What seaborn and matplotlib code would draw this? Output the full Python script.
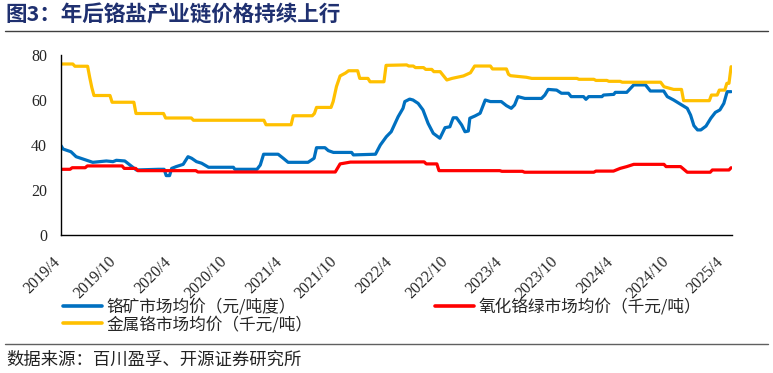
import pandas as pd
import matplotlib.pyplot as plt
import matplotlib.dates as mdates
import matplotlib.transforms as mtransforms
from matplotlib.lines import Line2D
import seaborn as sns

# === Data ===
ore_dates = ["2019-04-01", "2019-04-08", "2019-05-04", "2019-05-21", "2019-06-23", "2019-07-15",
             "2019-08-29", "2019-09-20", "2019-10-01", "2019-10-29", "2019-11-15", "2019-12-06",
             "2020-02-17", "2020-03-07", "2020-03-14", "2020-03-25", "2020-04-01", "2020-04-16",
             "2020-05-09", "2020-05-25", "2020-06-06", "2020-06-22", "2020-07-09", "2020-08-01",
             "2020-10-22", "2020-10-27", "2021-01-08", "2021-01-19", "2021-01-30", "2021-03-19",
             "2021-04-05", "2021-04-21", "2021-06-26", "2021-07-16", "2021-07-24", "2021-08-21",
             "2021-09-01", "2021-09-18", "2021-11-17", "2021-11-23", "2022-02-04", "2022-02-20",
             "2022-03-12", "2022-03-28", "2022-04-20", "2022-05-06", "2022-05-12", "2022-05-28",
             "2022-06-08", "2022-06-25", "2022-07-11", "2022-07-28", "2022-08-14", "2022-09-05",
             "2022-09-22", "2022-10-08", "2022-10-19", "2022-10-30", "2022-11-16", "2022-11-27",
             "2022-12-08", "2022-12-13", "2022-12-30", "2023-01-16", "2023-02-02", "2023-02-19",
             "2023-03-27", "2023-04-13", "2023-04-29", "2023-05-10", "2023-05-21", "2023-06-13",
             "2023-08-07", "2023-08-18", "2023-08-29", "2023-09-26", "2023-10-12", "2023-11-04",
             "2023-11-13", "2023-12-24", "2024-01-01", "2024-01-10", "2024-02-23", "2024-02-28",
             "2024-04-02", "2024-04-07", "2024-05-15", "2024-06-07", "2024-07-16", "2024-08-01",
             "2024-09-14", "2024-09-26", "2024-10-17", "2024-11-09", "2024-12-01", "2024-12-12",
             "2024-12-23", "2025-01-04", "2025-01-15", "2025-02-01", "2025-02-17", "2025-03-04",
             "2025-03-19", "2025-04-01", "2025-04-12", "2025-04-25"]
ore_values = [39.7, 38.2, 37.0, 34.8, 33.3, 32.3,
              32.9, 32.6, 33.2, 32.9, 31.1, 28.9,
              29.2, 29.2, 26.4, 26.4, 29.6, 30.4,
              31.4, 34.8, 34.1, 32.6, 31.9, 30.1,
              30.1, 29.2, 29.2, 31.1, 35.9, 35.9,
              34.1, 32.3, 32.3, 34.1, 38.8, 38.8,
              37.5, 36.7, 36.7, 35.6, 35.9, 40.0,
              43.7, 45.9, 52.6, 56.3, 59.3, 60.4,
              60.0, 58.5, 55.6, 49.6, 45.2, 43.0,
              47.7, 48.1, 52.1, 52.1, 48.9, 45.9,
              46.2, 51.9, 52.9, 54.1, 60.0, 59.3,
              59.3, 57.5, 56.3, 57.8, 61.5, 60.7,
              60.7, 62.2, 64.7, 64.4, 63.0, 63.0,
              61.5, 61.5, 60.3, 61.5, 61.5, 62.2,
              62.5, 63.4, 63.4, 66.7, 66.7, 64.0,
              64.0, 61.5, 60.0, 58.1, 56.3, 53.3,
              48.6, 46.7, 46.7, 48.4, 51.9, 54.5,
              55.6, 58.5, 63.7, 63.7]

green_dates = ["2019-04-01", "2019-05-01", "2019-05-08", "2019-06-20", "2019-06-27", "2019-10-20",
               "2019-10-27", "2019-12-04", "2019-12-11", "2020-06-20", "2020-06-27", "2021-09-24",
               "2021-10-10", "2021-11-13", "2022-07-15", "2022-07-22", "2022-08-26", "2022-09-02",
               "2023-03-22", "2023-03-29", "2023-06-05", "2023-06-12", "2024-01-27", "2024-02-03",
               "2024-04-01", "2024-04-23", "2024-05-15", "2024-06-07", "2024-09-15", "2024-09-22",
               "2024-11-09", "2024-12-01", "2025-02-15", "2025-02-22", "2025-04-18", "2025-04-25"]
green_values = [29.2, 29.2, 29.9, 29.9, 30.7, 30.7,
                29.6, 29.6, 28.6, 28.6, 28.0, 28.0,
                31.6, 32.4, 32.5, 31.6, 31.6, 28.6,
                28.6, 28.3, 28.3, 27.9, 27.9, 28.4,
                28.4, 29.6, 30.4, 31.4, 31.4, 30.4,
                30.4, 27.9, 27.9, 28.9, 28.9, 29.9]

metal_dates = ["2019-04-01", "2019-05-10", "2019-05-17", "2019-06-28", "2019-07-05", "2019-07-12",
               "2019-07-19", "2019-09-10", "2019-09-17", "2019-11-28", "2019-12-05", "2020-03-05",
               "2020-03-12", "2020-06-05", "2020-06-12", "2021-01-31", "2021-02-07", "2021-05-01",
               "2021-05-08", "2021-07-10", "2021-07-17", "2021-07-24", "2021-09-10", "2021-09-17",
               "2021-09-28", "2021-10-10", "2021-10-28", "2021-11-07", "2021-12-07", "2021-12-14",
               "2022-01-10", "2022-01-17", "2022-03-04", "2022-03-11", "2022-05-18", "2022-05-25",
               "2022-06-09", "2022-06-16", "2022-07-13", "2022-07-20", "2022-08-09", "2022-08-16",
               "2022-09-06", "2022-09-13", "2022-09-28", "2022-10-15", "2022-11-22", "2022-12-15",
               "2022-12-29", "2023-02-19", "2023-02-26", "2023-04-13", "2023-04-20", "2023-04-27",
               "2023-06-18", "2023-07-06", "2023-12-02", "2023-12-09", "2024-01-27", "2024-02-03",
               "2024-03-10", "2024-03-17", "2024-04-23", "2024-04-30", "2024-09-04", "2024-09-15",
               "2024-10-17", "2024-11-12", "2024-11-19", "2025-02-12", "2025-02-19", "2025-03-10",
               "2025-03-17", "2025-04-04", "2025-04-11", "2025-04-18", "2025-04-25"]
metal_values = [76.0, 76.0, 75.0, 75.0, 70.0, 65.5,
                62.0, 62.0, 59.0, 59.0, 54.0, 54.0,
                52.0, 52.0, 51.0, 51.0, 49.0, 49.0,
                53.0, 53.0, 54.0, 56.7, 56.7, 59.3,
                66.0, 70.7, 72.0, 73.0, 73.0, 69.6,
                69.6, 68.1, 68.1, 75.4, 75.6, 75.1,
                75.1, 74.4, 74.4, 73.6, 73.6, 72.6,
                72.6, 71.4, 68.9, 69.6, 70.7, 72.1,
                75.1, 75.1, 73.8, 73.8, 71.4, 70.8,
                70.1, 69.6, 69.6, 69.2, 69.2, 68.7,
                68.7, 68.3, 68.3, 67.9, 67.9, 65.9,
                64.7, 64.7, 59.7, 59.7, 62.2, 62.2,
                64.4, 64.4, 67.4, 67.4, 74.8]

series_names = ["铬矿市场均价（元/吨度）", "金属铬市场均价（千元/吨）", "氧化铬绿市场均价（千元/吨）"]
series_colors = ["#0070C0", "#FFC000", "#FF0000"]
tick_dates = ["2019-04-01", "2019-10-01", "2020-04-01", "2020-10-01", "2021-04-01", "2021-10-01",
              "2022-04-01", "2022-10-01", "2023-04-01", "2023-10-01", "2024-04-01", "2024-10-01",
              "2025-04-01"]
tick_labels = ["2019/4", "2019/10", "2020/4", "2020/10", "2021/4", "2021/10", "2022/4",
               "2022/10", "2023/4", "2023/10", "2024/4", "2024/10", "2025/4"]

frames = []
for name, d, v in zip(series_names, [ore_dates, metal_dates, green_dates],
                      [ore_values, metal_values, green_values]):
    frames.append(pd.DataFrame({"date": pd.to_datetime(d), "value": v, "series": name}))
df = pd.concat(frames, ignore_index=True)

sns.set_style("white")
cjk = ["Noto Sans CJK SC", "DejaVu Sans"]
serif = ["Liberation Serif", "Noto Sans CJK SC"]
plt.rcParams["font.family"] = cjk

fig = plt.figure(figsize=(7.73, 3.73), dpi=100)
ax = fig.add_axes([61 / 773, 1 - 235 / 373, 671 / 773, 180 / 373])

sns.lineplot(data=df, x="date", y="value", hue="series", hue_order=series_names,
             palette=series_colors, estimator=None, sort=False, linewidth=2.3, ax=ax)

ax.set_xlim(pd.Timestamp("2019-04-01"), pd.Timestamp("2025-04-28"))
ax.set_ylim(0, 80)
ax.set_yticks([0, 20, 40, 60, 80])
ax.set_xticks(mdates.date2num(pd.to_datetime(tick_dates)))
ax.set_xticklabels(tick_labels, rotation=45, ha="right", family=serif, fontsize=11.5)
for lab in ax.get_yticklabels():
    lab.set_family(serif)
    lab.set_fontsize(11.5)
ax.set_xlabel("")
ax.set_ylabel("")
ax.tick_params(axis="both", direction="in", length=4, width=1, color="black")
ax.tick_params(axis="y", pad=10)
ax.tick_params(axis="x", pad=2)
for s in ["top", "right"]:
    ax.spines[s].set_visible(False)
for s in ["left", "bottom"]:
    ax.spines[s].set_color("black")
    ax.spines[s].set_linewidth(1)
ax.grid(False)

# shift rotated date labels down like the original
shift = mtransforms.ScaledTranslation(3 / 100, -16 / 100, fig.dpi_scale_trans)
for lab in ax.get_xticklabels():
    lab.set_transform(lab.get_transform() + shift)

ax.get_legend().remove()
handles = [Line2D([], [], color=c, lw=2.6) for c in series_colors]
leg_kw = dict(frameon=False, fontsize=12, handlelength=2.35, handletextpad=0.25,
              labelspacing=0.0, borderpad=0, borderaxespad=0)
fig.legend(handles[:2], series_names[:2], loc="center left",
           bbox_to_anchor=(63 / 773, 1 - 316 / 373), **leg_kw)
fig.legend(handles[2:], series_names[2:], loc="center left",
           bbox_to_anchor=(435 / 773, 1 - 307 / 373), **leg_kw)

# title, rules and source
fig.text(5 / 773, 1 - 15 / 373, "图3：年后铬盐产业链价格持续上行", fontsize=15.5,
         weight="bold", color="#1F3070", va="center", ha="left")
fig.add_artist(Line2D([5 / 773, 768 / 773], [1 - 31 / 373] * 2, color="#404040", lw=1))
fig.add_artist(Line2D([5 / 773, 768 / 773], [1 - 344 / 373] * 2, color="#606060", lw=1))
fig.text(6 / 773, 1 - 360 / 373, "数据来源：百川盈孚、开源证券研究所", fontsize=12.5,
         color="#222222", va="center", ha="left")

fig.savefig("out.png", dpi=100)
